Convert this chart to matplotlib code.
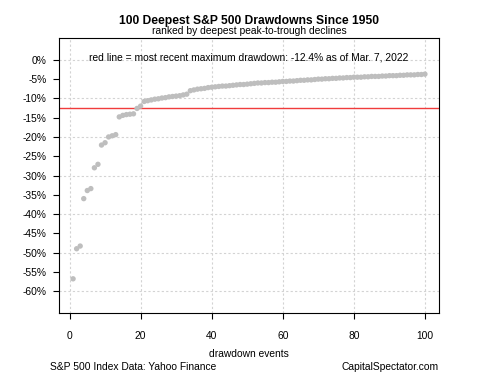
import numpy as np
import matplotlib
matplotlib.use("Agg")
import matplotlib.pyplot as plt

plt.rcParams['font.family'] = ['Liberation Sans', 'DejaVu Sans']

# drawdowns (%) ranked from deepest
drawdowns = [-56.8, -49.0, -48.3, -36.0, -33.9, -33.4, -28.0, -27.1, -22.1, -21.5,
             -20.0, -19.7, -19.4, -14.8, -14.4, -14.2, -14.1, -14.0, -12.6, -12.0,
             -10.8, -10.6, -10.4, -10.2, -10.1, -9.9, -9.8, -9.6, -9.5, -9.4,
             -9.3, -9.1, -8.9, -8.0, -7.8, -7.6, -7.5, -7.4, -7.2, -7.1,
             -7.0, -6.9, -6.8, -6.8, -6.7, -6.6, -6.5, -6.4, -6.4, -6.3,
             -6.2, -6.1, -6.0, -6.0, -5.9, -5.9, -5.8, -5.8, -5.7, -5.6,
             -5.6, -5.5, -5.5, -5.4, -5.3, -5.3, -5.2, -5.2, -5.1, -5.0,
             -5.0, -4.9, -4.9, -4.8, -4.8, -4.7, -4.7, -4.6, -4.6, -4.5,
             -4.5, -4.5, -4.4, -4.4, -4.3, -4.3, -4.3, -4.2, -4.2, -4.1,
             -4.1, -4.1, -4.0, -4.0, -3.9, -3.9, -3.9, -3.8, -3.8, -3.7]
events = np.arange(1, len(drawdowns) + 1)
recent_dd = -12.4

yticks = np.arange(0, -61, -5)
ylabels = ['%d%%' % v for v in yticks]
xticks = [0, 20, 40, 60, 80, 100]

fig = plt.figure(figsize=(5, 3.75), dpi=100)
ax = fig.add_axes([0.118, 0.165, 0.76, 0.734])

for gx in xticks:
    ax.axvline(gx, color='#d3d3d3', lw=0.8, ls=(0, (2, 2)), zorder=0)
for gy in range(0, -61, -10):
    ax.axhline(gy, color='#d3d3d3', lw=0.8, ls=(0, (2, 2)), zorder=0)

ax.axhline(recent_dd, color='#f03c3c', lw=1.0, zorder=1)
ax.scatter(events, drawdowns, s=15, color='#bebebe', edgecolors='none', zorder=2)

ax.set_xlim(-2.96, 103.96)
ax.set_ylim(-65.7, 5.7)
ax.set_xticks(xticks)
ax.set_yticks(yticks)
ax.set_yticklabels(ylabels)
ax.tick_params(labelsize=7.4, length=4, width=0.8, pad=5)
ax.tick_params(axis='x', pad=9)
for s in ax.spines.values():
    s.set_linewidth(0.8)

ax.text(0.5, 0.93, 'red line = most recent maximum drawdown: -12.4% as of Mar. 7, 2022',
        transform=ax.transAxes, ha='center', va='center', fontsize=7.4)

fig.text(0.498, 0.943, '100 Deepest S&P 500 Drawdowns Since 1950',
         ha='center', va='center', fontsize=8.7, fontweight='bold')
fig.text(0.498, 0.916, 'ranked by deepest peak-to-trough declines',
         ha='center', va='center', fontsize=7.4)
fig.text(0.498, 0.056, 'drawdown events', ha='center', va='center', fontsize=7.4)
fig.text(0.1, 0.022, 'S&P 500 Index Data: Yahoo Finance', ha='left', va='center', fontsize=7.4)
fig.text(0.878, 0.022, 'CapitalSpectator.com', ha='right', va='center', fontsize=7.4)

fig.savefig('out.png', dpi=100)
